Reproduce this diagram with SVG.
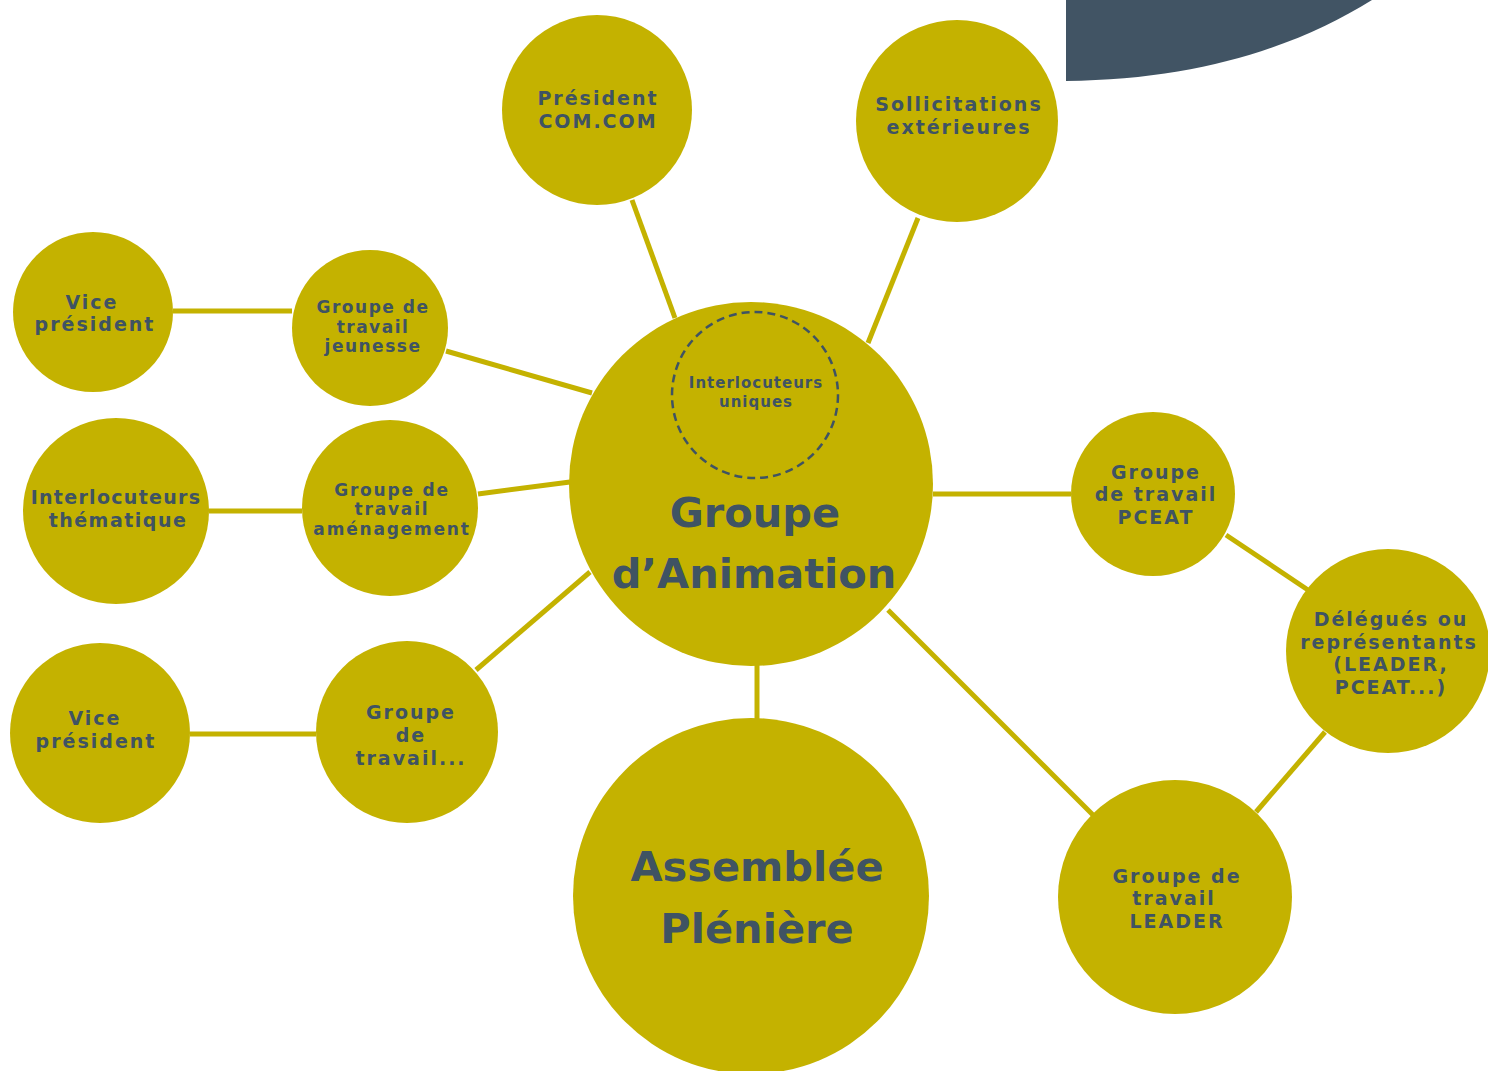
<svg xmlns="http://www.w3.org/2000/svg" width="1488" height="1071" viewBox="0 0 1488 1071">
<style>
.n{fill:#c4b200}
.t{font-family:"DejaVu Sans","Open Sans",sans-serif;font-weight:700;fill:#3f5363;text-anchor:middle}
.s{font-size:19px;letter-spacing:2px}
.xs{font-size:17px;letter-spacing:1.5px}
.u{font-size:15px;letter-spacing:1px}
.big{font-size:41.5px;letter-spacing:0}
.c line{stroke:#c4b200;stroke-width:5}
</style>
<rect width="1488" height="1071" fill="#fff"/>
<path d="M1066,0 H1372 C1300,45 1200,80 1066,81 Z" fill="#415464"/>
<g class="c">
<line x1="632" y1="200" x2="675" y2="318"/>
<line x1="918" y1="218" x2="868" y2="343"/>
<line x1="173" y1="311" x2="292" y2="311"/>
<line x1="446" y1="351" x2="592" y2="393"/>
<line x1="209" y1="511" x2="302" y2="511"/>
<line x1="478" y1="494" x2="570" y2="482"/>
<line x1="190" y1="734" x2="316" y2="734"/>
<line x1="476" y1="670" x2="590" y2="572"/>
<line x1="757" y1="660" x2="757" y2="725"/>
<line x1="933" y1="494" x2="1071" y2="494"/>
<line x1="1226" y1="535" x2="1308" y2="590"/>
<line x1="1325" y1="732" x2="1256" y2="812"/>
<line x1="888" y1="610" x2="1093" y2="815"/>
</g>
<g id="president"><circle class="n" cx="597" cy="110" r="95"/><text class="t s" x="598" y="105">Président</text><text class="t s" x="598" y="128">COM.COM</text></g>
<g id="sollicitations"><circle class="n" cx="957" cy="121" r="101"/><text class="t s" x="959" y="111">Sollicitations</text><text class="t s" x="959" y="134">extérieures</text></g>
<g id="vice1"><circle class="n" cx="93" cy="312" r="80"/><text class="t s" x="92" y="309">Vice</text><text class="t s" x="95" y="331">président</text></g>
<g id="jeunesse"><circle class="n" cx="370" cy="328" r="78"/><text class="t xs" x="373" y="313">Groupe de</text><text class="t xs" x="373" y="333">travail</text><text class="t xs" x="373" y="352">jeunesse</text></g>
<g id="thematique"><circle class="n" cx="116" cy="511" r="93"/><text class="t s" style="letter-spacing:1.3px" x="116" y="504">Interlocuteurs</text><text class="t s" style="letter-spacing:1.5px" x="118" y="527">thématique</text></g>
<g id="amenagement"><circle class="n" cx="390" cy="508" r="88"/><text class="t xs" style="letter-spacing:1.8px" x="392" y="496">Groupe de</text><text class="t xs" style="letter-spacing:1.8px" x="392" y="515">travail</text><text class="t xs" style="letter-spacing:1.8px" x="392" y="535">aménagement</text></g>
<g id="vice2"><circle class="n" cx="100" cy="733" r="90"/><text class="t s" x="95" y="725">Vice</text><text class="t s" x="96" y="748">président</text></g>
<g id="travail"><circle class="n" cx="407" cy="732" r="91"/><text class="t s" x="411" y="719">Groupe</text><text class="t s" x="411" y="742">de</text><text class="t s" x="411" y="765">travail...</text></g>
<g id="animation"><circle class="n" cx="751" cy="484" r="182"/><circle cx="755" cy="395" r="83" fill="none" stroke="#3f5363" stroke-width="2.5" stroke-dasharray="8,5"/><text class="t u" x="756" y="388">Interlocuteurs</text><text class="t u" x="756" y="407">uniques</text><text class="t big" x="755" y="527">Groupe</text><text class="t big" x="754" y="588">d’Animation</text></g>
<g id="assemblee"><circle class="n" cx="751" cy="896" r="178"/><text class="t big" x="757" y="881">Assemblée</text><text class="t big" x="757" y="943">Plénière</text></g>
<g id="pceat"><circle class="n" cx="1153" cy="494" r="82"/><text class="t s" x="1156" y="479">Groupe</text><text class="t s" x="1156" y="501">de travail</text><text class="t s" x="1156" y="524">PCEAT</text></g>
<g id="delegues"><circle class="n" cx="1388" cy="651" r="102"/><text class="t s" x="1391" y="626">Délégués ou</text><text class="t s" x="1389" y="649">représentants</text><text class="t s" x="1391" y="671">(LEADER,</text><text class="t s" x="1391" y="694">PCEAT...)</text></g>
<g id="leader"><circle class="n" cx="1175" cy="897" r="117"/><text class="t s" x="1177" y="883">Groupe de</text><text class="t s" x="1174" y="905">travail</text><text class="t s" x="1177" y="928">LEADER</text></g>
</svg>
